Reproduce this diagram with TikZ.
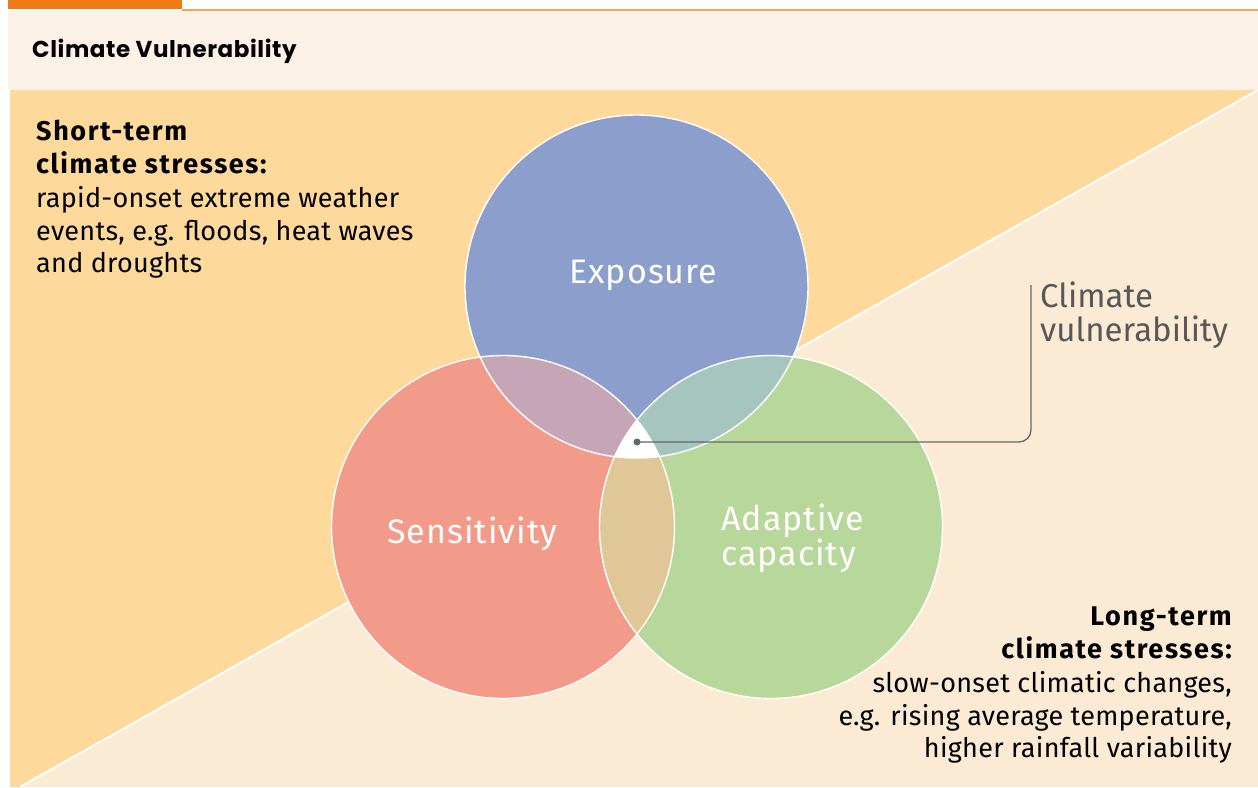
\documentclass[tikz,border=0pt]{standalone}
\usepackage{fontspec}
\setmainfont{Fira Sans}
\newfontfamily\headfont{Poppins}
\definecolor{topor}{HTML}{EE7B16}
\definecolor{thinor}{HTML}{F4A15A}
\definecolor{headbg}{HTML}{FCF1E6}
\definecolor{darkbg}{HTML}{FDD99C}
\definecolor{lightbg}{HTML}{FCEBD4}
\definecolor{expcol}{HTML}{8C9FCC}
\definecolor{sencol}{HTML}{F29B8A}
\definecolor{adacol}{HTML}{B8D79A}
\definecolor{escol}{HTML}{C6A5B6}
\definecolor{eacol}{HTML}{A6C5BF}
\definecolor{sacol}{HTML}{DFC797}
\definecolor{greytxt}{HTML}{58585A}
\definecolor{conncol}{HTML}{666666}
\tikzset{
  bodytxt/.style={inner sep=0pt, text=black, font=\fontsize{27}{32}\selectfont\addfontfeature{LetterSpace=1}},
  boldtxt/.style={inner sep=0pt, text=black, font=\fontsize{27}{32}\selectfont\bfseries\addfontfeature{LetterSpace=6}},
  circlabel/.style={inner sep=0pt, text=white, font=\fontsize{34}{40}\selectfont\addfontfeature{LetterSpace=3}},
  vulntxt/.style={inner sep=0pt, text=greytxt, font=\fontsize{33}{38}\selectfont},
  conn/.style={draw=conncol, line width=1.3pt},
  rim/.style={draw=white, line width=1.4pt}
}
\begin{document}
\begin{tikzpicture}[x=1pt,y=-1pt]
\useasboundingbox (0,0) rectangle (1258,787);
% header
\fill[white] (0,0) rectangle (1258,787);
\fill[topor] (8,0) rectangle (182,9);
\fill[thinor] (182,8.5) rectangle (1258,10.5);
\fill[headbg] (8,10.5) rectangle (1258,90);
\node[inner sep=0pt, anchor=base west, font=\headfont\fontsize{23}{26}\selectfont\bfseries\addfontfeature{LetterSpace=2.5}] (title) at (32,57) {Climate Vulnerability};
% background split
\fill[lightbg] (10,90) rectangle (1258,787);
\fill[darkbg] (10,90) -- (1258,90) -- (20,787) -- (10,787) -- cycle;
\draw[white, line width=2pt] (1258,90) -- (20,787);
% circles
\coordinate (E) at (636.5,286.5);
\coordinate (S) at (503,527);
\coordinate (A) at (771,527);
\def\rr{171.5pt}
\fill[expcol] (E) circle[radius=\rr];
\fill[sencol] (S) circle[radius=\rr];
\fill[adacol] (A) circle[radius=\rr];
\begin{scope}
  \clip (E) circle[radius=\rr];
  \fill[escol] (S) circle[radius=\rr];
  \fill[eacol] (A) circle[radius=\rr];
\end{scope}
\begin{scope}
  \clip (S) circle[radius=\rr];
  \fill[sacol] (A) circle[radius=\rr];
  \clip (A) circle[radius=\rr];
  \fill[white] (E) circle[radius=\rr];
\end{scope}
\draw[rim] (E) circle[radius=\rr];
\draw[rim] (S) circle[radius=\rr];
\draw[rim] (A) circle[radius=\rr];
% circle labels
\node[circlabel, anchor=base west] (lexp) at (569,283) {Exposure};
\node[circlabel, anchor=base west] (lsen) at (387,543) {Sensitivity};
\node[circlabel, anchor=base west] (lada1) at (721,530) {Adaptive};
\node[circlabel, anchor=base west] (lada2) at (721,565) {capacity};
% connector
\node[circle, fill=conncol, inner sep=0pt, minimum size=7pt] (vdot) at (637,442) {};
\coordinate (vtop) at (1031,285);
\draw[conn, rounded corners=12pt] (vdot.center) -| (vtop);
\node[vulntxt, anchor=base west] (v1) at (1040,307) {Climate};
\node[vulntxt, anchor=base west] (v2) at (1040,341) {vulnerability};
% short-term text
\node[boldtxt, anchor=base west] (s1) at (36,140) {Short-term};
\node[boldtxt, anchor=base west] (s2) at (36,173) {climate stresses:};
\node[bodytxt, anchor=base west] (s3) at (36,207) {rapid-onset extreme weather};
\node[bodytxt, anchor=base west] (s4) at (36,240) {events, e.g. floods, heat waves};
\node[bodytxt, anchor=base west] (s5) at (36,272) {and droughts};
% long-term text
\node[boldtxt, anchor=base east] (t1) at (1232,625) {Long-term};
\node[boldtxt, anchor=base east] (t2) at (1232,658) {climate stresses:};
\node[bodytxt, anchor=base east] (t3) at (1232,692) {slow-onset climatic changes,};
\node[bodytxt, anchor=base east] (t4) at (1232,725) {e.g. rising average temperature,};
\node[bodytxt, anchor=base east] (t5) at (1232,757) {higher rainfall variability};
\end{tikzpicture}
\end{document}
